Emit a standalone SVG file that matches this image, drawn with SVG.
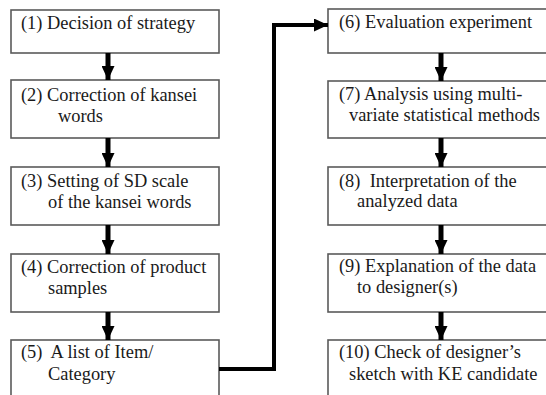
<svg xmlns="http://www.w3.org/2000/svg" width="546" height="395" viewBox="0 0 546 395">
  <defs>
    <style>
      .box { fill: #ffffff; stroke: #5a5a5a; stroke-width: 1.6; }
      .lbl { font-family: "Liberation Serif", "Times New Roman", "DejaVu Serif", serif; font-size: 18.4px; fill: #1a1a1a; }
      .flow { fill: none; stroke: #000000; stroke-width: 5; }
      .link { fill: none; stroke: #000000; stroke-width: 4; stroke-linejoin: miter; }
    </style>
    <marker id="head" viewBox="0 0 14 13" refX="14" refY="6.5" markerWidth="14" markerHeight="13" markerUnits="userSpaceOnUse" orient="auto">
      <path d="M0,0 L14,6.5 L0,13 Z" fill="#000000"/>
    </marker>
  </defs>
  <rect width="546" height="395" fill="#ffffff"/>

  <!-- left column -->
  <g id="step1">
    <rect class="box" x="11" y="10" width="208" height="43"/>
    <text class="lbl" x="21" y="29">(1) Decision of strategy</text>
  </g>
  <g id="step2">
    <rect class="box" x="11" y="80" width="208" height="58"/>
    <text class="lbl" x="21" y="101">(2) Correction of kansei</text>
    <text class="lbl" x="58" y="122">words</text>
  </g>
  <g id="step3">
    <rect class="box" x="11" y="167" width="208" height="58"/>
    <text class="lbl" x="21" y="187">(3) Setting of SD scale</text>
    <text class="lbl" x="48" y="208">of the kansei words</text>
  </g>
  <g id="step4">
    <rect class="box" x="11" y="254" width="208" height="58"/>
    <text class="lbl" x="21" y="273">(4) Correction of product</text>
    <text class="lbl" x="48" y="294">samples</text>
  </g>
  <g id="step5">
    <rect class="box" x="11" y="340" width="208" height="70"/>
    <text class="lbl" x="21" y="358" xml:space="preserve">(5)  A list of Item/</text>
    <text class="lbl" x="48" y="380">Category</text>
  </g>

  <!-- right column -->
  <g id="step6">
    <rect class="box" x="328" y="9" width="230" height="44"/>
    <text class="lbl" x="339" y="28">(6) Evaluation experiment</text>
  </g>
  <g id="step7">
    <rect class="box" x="328" y="81" width="230" height="57"/>
    <text class="lbl" x="339" y="100">(7) Analysis using multi-</text>
    <text class="lbl" x="349" y="121">variate statistical methods</text>
  </g>
  <g id="step8">
    <rect class="box" x="328" y="167" width="230" height="58"/>
    <text class="lbl" x="339" y="187" xml:space="preserve">(8)  Interpretation of the</text>
    <text class="lbl" x="357" y="207">analyzed data</text>
  </g>
  <g id="step9">
    <rect class="box" x="328" y="254" width="230" height="58"/>
    <text class="lbl" x="339" y="272">(9) Explanation of the data</text>
    <text class="lbl" x="357" y="293">to designer(s)</text>
  </g>
  <g id="step10">
    <rect class="box" x="328" y="340" width="230" height="70"/>
    <text class="lbl" x="339" y="358">(10) Check of designer’s</text>
    <text class="lbl" x="349" y="380">sketch with KE candidate</text>
  </g>

  <!-- connectors -->
  <g id="connectors">
    <line class="flow" x1="108" y1="53" x2="108" y2="80" marker-end="url(#head)"/>
    <line class="flow" x1="108" y1="138" x2="108" y2="167" marker-end="url(#head)"/>
    <line class="flow" x1="108" y1="225" x2="108" y2="254" marker-end="url(#head)"/>
    <line class="flow" x1="108" y1="312" x2="108" y2="340" marker-end="url(#head)"/>

    <line class="flow" x1="441" y1="53" x2="441" y2="81" marker-end="url(#head)"/>
    <line class="flow" x1="441" y1="138" x2="441" y2="167" marker-end="url(#head)"/>
    <line class="flow" x1="441" y1="225" x2="441" y2="254" marker-end="url(#head)"/>
    <line class="flow" x1="441" y1="312" x2="441" y2="340" marker-end="url(#head)"/>

    <polyline class="link" points="219,369 274,369 274,25 328,25" marker-end="url(#head)"/>
  </g>
</svg>
